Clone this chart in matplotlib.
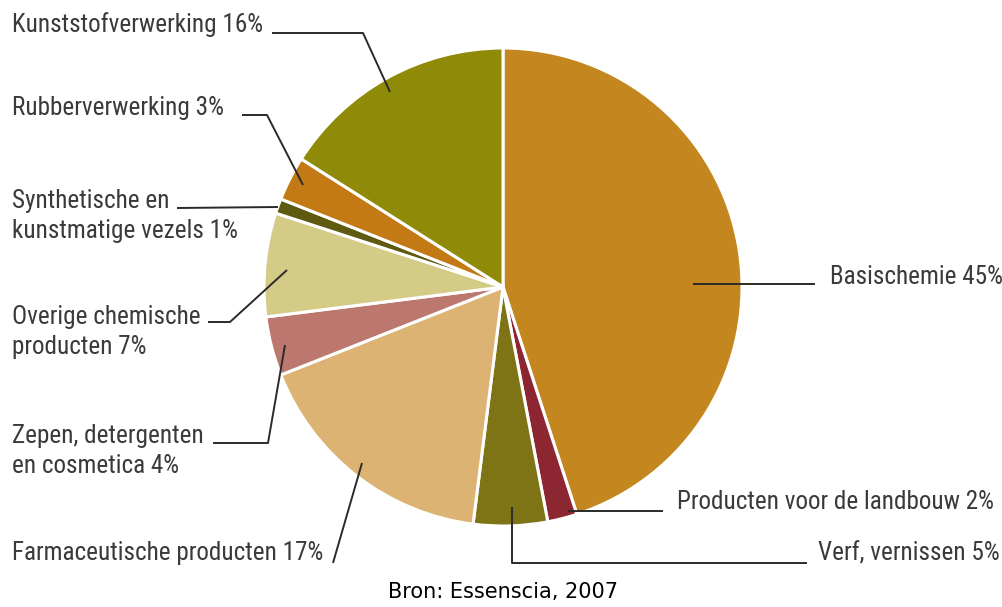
import os
import matplotlib
matplotlib.use("Agg")
import matplotlib.pyplot as plt
from matplotlib import font_manager as fm

# Sector shares of the Belgian chemical industry (clockwise from the top)
sectors = [
    "Basischemie",
    "Producten voor de landbouw",
    "Verf, vernissen",
    "Farmaceutische producten",
    "Zepen, detergenten\nen cosmetica",
    "Overige chemische\nproducten",
    "Synthetische en\nkunstmatige vezels",
    "Rubberverwerking",
    "Kunststofverwerking",
]
shares = [45, 2, 5, 17, 4, 7, 1, 3, 16]
colors = ["#C4861E", "#8C2630", "#7E7416", "#DDB373", "#BC786F",
          "#D4CB86", "#5E5A12", "#C47A14", "#8F8A08"]
source = "Bron: Essenscia, 2007"


def pick_label_font():
    """Prefer a narrow sans face for the callout labels."""
    prefs = ["liberationsansnarrow-regular", "robotocondensed-regular",
             "opensanscondensed-regular", "opensans_condensed-regular",
             "notosans-condensed.", "notosanscondensed-regular",
             "dejavusanscondensed.ttf"]
    files = {os.path.basename(f.fname).lower(): f.fname
             for f in fm.fontManager.ttflist}
    for p in prefs:
        for name, path in files.items():
            if name.startswith(p) or name == p:
                return fm.FontProperties(fname=path)
    for name, path in files.items():
        if ("narrow" in name or "condensed" in name) and "sans" in name \
                and all(k not in name for k in ("bold", "light", "italic",
                                                "oblique", "semi", "extra",
                                                "thin", "medium", "black",
                                                "mono", "serif")):
            return fm.FontProperties(fname=path)
    return fm.FontProperties(family=["Lato", "DejaVu Sans"])


W, H = 1002, 607
fig = plt.figure(figsize=(W / 100, H / 100), dpi=100)
ax = fig.add_axes([0, 0, 1, 1])


def Y(y):
    # pixel row (from top) -> data y
    return H - y


cx, cy, r = 503, 287, 239
ax.pie(shares, colors=colors, startangle=90, counterclock=False,
       center=(cx, Y(cy)), radius=r,
       wedgeprops=dict(edgecolor="white", linewidth=2.2))
ax.set_xlim(0, W)
ax.set_ylim(0, H)
ax.set_aspect("equal")
ax.axis("off")

label_fp = pick_label_font()
tcol = "#3a3a3a"

# size the label font so the longest top label spans ~250 px
renderer = fig.canvas.get_renderer()
probe = ax.text(12, 0, "Kunststofverwerking 16%", fontproperties=label_fp,
                fontsize=20)
w = probe.get_window_extent(renderer).width
probe.remove()
fs = min(22.0, 20 * 250.0 / w)

# (label index, text x, text y, leader polyline in pixel coords)
layout = [
    (0, 830, 277, [(693, 284), (815, 284)]),
    (1, 677, 502, [(568, 511), (663, 511)]),
    (2, 818, 553, [(512, 507), (512, 563), (807, 563)]),
    (3, 12, 553, [(333, 563), (362, 463)]),
    (4, 12, 451, [(213, 443), (268, 443), (285, 345)]),
    (5, 12, 332, [(208, 322), (230, 322), (287, 270)]),
    (6, 12, 216, [(177, 208), (278, 207)]),
    (7, 12, 108, [(242, 115), (267, 115), (303, 185)]),
    (8, 12, 25, [(272, 33), (363, 33), (390, 92)]),
]

for i, tx, ty, pts in layout:
    text = f"{sectors[i]} {shares[i]}%"
    ax.text(tx, Y(ty), text, ha="left", va="center", fontproperties=label_fp,
            fontsize=fs, color=tcol, linespacing=1.3)
    xs = [p[0] for p in pts]
    ys = [Y(p[1]) for p in pts]
    ax.plot(xs, ys, color="#2a2a2a", linewidth=1.4, solid_capstyle="butt")

ax.text(503, Y(592), source, ha="center", va="center", fontsize=15,
        family="DejaVu Sans", color="black")

fig.savefig("out.png", dpi=100, facecolor="white")
